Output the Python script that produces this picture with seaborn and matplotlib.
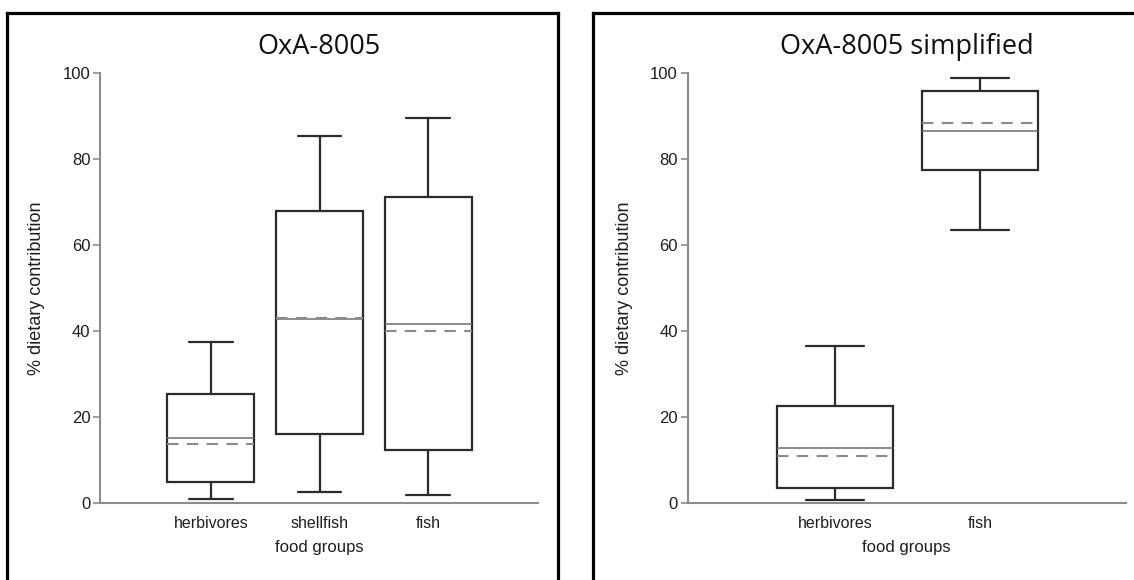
import numpy as np
import pandas as pd
import matplotlib
matplotlib.use("Agg")
import matplotlib.pyplot as plt
from matplotlib.lines import Line2D
import seaborn as sns

# Summary statistics of % dietary contribution per food group
groups_full = ["herbivores", "shellfish", "fish"]
full_min = [0.9, 2.5, 1.9]
full_q1 = [4.8, 16.0, 12.4]
full_median = [15.1, 42.9, 41.7]
full_q3 = [25.4, 67.9, 71.2]
full_max = [37.5, 85.3, 89.5]
full_mean = [13.7, 43.1, 39.9]

groups_simple = ["herbivores", "fish"]
simple_min = [0.6, 63.4]
simple_q1 = [3.6, 77.5]
simple_median = [12.9, 86.5]
simple_q3 = [22.5, 95.8]
simple_max = [36.4, 98.8]
simple_mean = [10.9, 88.4]

y_ticks = [0, 20, 40, 60, 80, 100]

sns.set_theme(style="ticks")
plt.rcParams["font.family"] = ["Liberation Sans", "DejaVu Sans"]

W, H = 1134, 580
fig = plt.figure(figsize=(W / 100, H / 100), dpi=100)
fig.patch.set_facecolor("white")

BOX = "#2b2b2b"
SPINE = "#8c8c8c"
TEXT = "#1e1e1e"


def draw_panel(ax, title, groups, mins, q1s, meds, q3s, maxs, means):
    # five points per group reproduce min / quartiles / median / max exactly
    df = pd.DataFrame({
        "food groups": np.repeat(groups, 5),
        "value": np.column_stack([mins, q1s, meds, q3s, maxs]).ravel(),
    })
    sns.boxplot(
        data=df, x="food groups", y="value", order=groups,
        whis=(0, 100), width=0.8, color="white", linecolor=BOX,
        linewidth=1.6, showfliers=False, saturation=1,
        medianprops=dict(color="#6e6e6e", linewidth=1.1),
        ax=ax,
    )
    pos = np.arange(len(groups))
    ax.hlines(means, pos - 0.4, pos + 0.4, colors="#8a8a8a",
              linestyles=(0, (5.5, 4)), linewidth=1.5, zorder=5)

    ax.set_xlim(-1.02, len(groups) + 0.01)
    ax.set_ylim(0, 100)
    ax.set_yticks(y_ticks)
    sns.despine(ax=ax)
    for side in ("left", "bottom"):
        ax.spines[side].set_color(SPINE)
        ax.spines[side].set_linewidth(1.5)
    ax.tick_params(axis="y", length=5, width=1.2, color=SPINE,
                   labelsize=12, labelcolor=TEXT, pad=2)
    ax.tick_params(axis="x", length=0, labelsize=11.5, labelcolor=TEXT, pad=9)
    ax.set_xlabel("food groups", fontsize=12, color=TEXT, labelpad=7)
    ax.set_ylabel("% dietary contribution", fontsize=13, color=TEXT)
    ax.yaxis.set_label_coords(-0.125, 0.5)
    ax.set_facecolor("white")
    ax.text(0.5, 1 + 19 / 430, title, transform=ax.transAxes,
            ha="center", va="baseline", fontsize=19.5,
            family=["Open Sans", "DejaVu Sans"], color="#111111")


ax1 = fig.add_axes([100 / W, 77 / H, 438 / W, 430 / H])
ax2 = fig.add_axes([687.5 / W, 77 / H, 438.5 / W, 430 / H])

draw_panel(ax1, "OxA-8005", groups_full, full_min, full_q1, full_median,
           full_q3, full_max, full_mean)
draw_panel(ax2, "OxA-8005 simplified", groups_simple, simple_min, simple_q1,
           simple_median, simple_q3, simple_max, simple_mean)

# panel frames
top = 1 - 13 / H
for x0, x1 in [(7 / W, 558 / W), (593 / W, 1.2)]:
    for xs, ys in [([x0, x0], [-0.1, top]), ([x0, x1], [top, top]),
                   ([x1, x1], [top, -0.1])]:
        fig.add_artist(Line2D(xs, ys, transform=fig.transFigure,
                              color="black", linewidth=2.3,
                              solid_capstyle="projecting"))

fig.savefig("out.png", dpi=100)
